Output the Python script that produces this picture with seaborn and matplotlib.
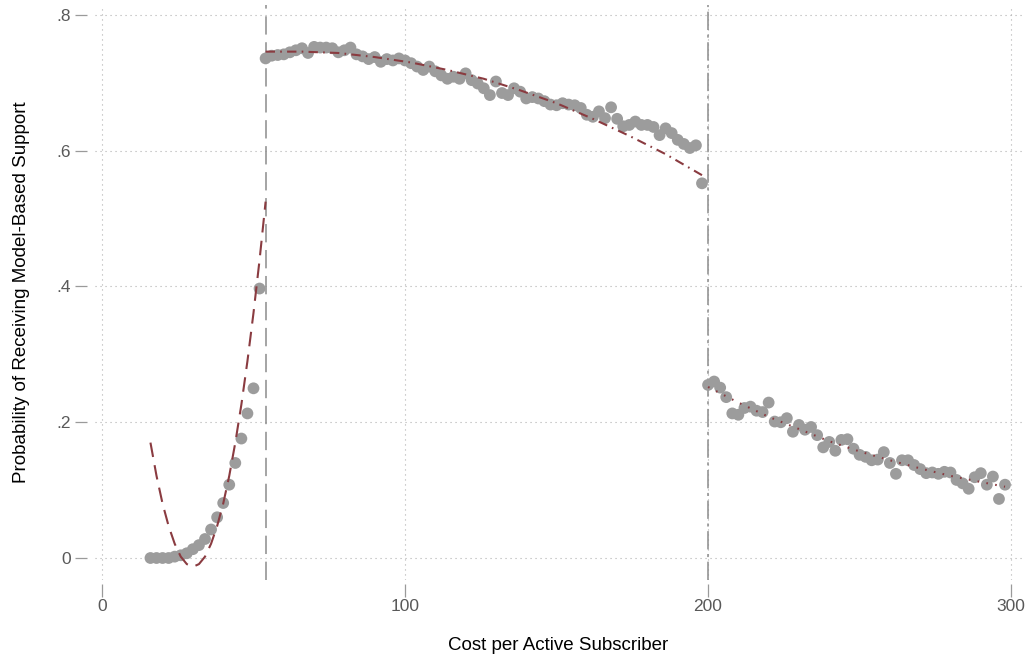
import numpy as np
import pandas as pd
import seaborn as sns
import matplotlib.pyplot as plt

sns.set_theme(style="white")
plt.rcParams['font.family'] = ['Liberation Sans', 'DejaVu Sans']

# binned means (2-unit bins) on each side of the cutoffs
left_x = list(range(16, 54, 2))
left_y = [0.000, 0.000, 0.000, 0.000, 0.002, 0.004, 0.007, 0.013, 0.019, 0.028,
          0.042, 0.060, 0.081, 0.108, 0.140, 0.176, 0.213, 0.250, 0.397]

mid_x = list(range(54, 200, 2))
mid_y = [0.736, 0.740, 0.741, 0.742, 0.745, 0.748, 0.751, 0.744, 0.753, 0.752,
         0.752, 0.751, 0.745, 0.748, 0.752, 0.742, 0.739, 0.735, 0.738, 0.731,
         0.735, 0.733, 0.736, 0.733,
         0.729, 0.724, 0.719, 0.724, 0.717, 0.711, 0.706, 0.709, 0.706, 0.714,
         0.704, 0.699, 0.692, 0.682, 0.702, 0.685, 0.682, 0.692, 0.687, 0.677,
         0.679, 0.677, 0.673,
         0.668, 0.667, 0.670, 0.668, 0.667, 0.663, 0.653, 0.650, 0.658, 0.648,
         0.664, 0.647, 0.636, 0.638, 0.643, 0.638, 0.638, 0.635, 0.623, 0.633,
         0.626, 0.616, 0.610, 0.604, 0.608, 0.552]

right_x = list(range(200, 300, 2))
right_y = [0.255, 0.260, 0.251, 0.237, 0.213, 0.211, 0.221, 0.223, 0.217, 0.215,
           0.229, 0.201, 0.200, 0.206, 0.186, 0.196, 0.189, 0.193, 0.181, 0.163,
           0.171, 0.158, 0.174, 0.175, 0.161,
           0.152, 0.149, 0.144, 0.145, 0.156, 0.140, 0.124, 0.144, 0.144, 0.137,
           0.131, 0.125, 0.126, 0.124, 0.127, 0.126, 0.115, 0.110, 0.102, 0.119,
           0.125, 0.108, 0.120, 0.087, 0.108]

# fitted curves
left_fit_x = list(range(16, 56, 2))
left_fit_y = [0.170, 0.121, 0.080, 0.047, 0.021, 0.002, -0.009, -0.013, -0.009, 0.002,
              0.021, 0.047, 0.080, 0.121, 0.170, 0.226, 0.290, 0.361, 0.439, 0.525]
mid_fit_x = [54, 66, 78, 90, 102, 114, 126, 138, 150, 162, 174, 186, 198]
mid_fit_y = [0.746, 0.746, 0.744, 0.738, 0.730, 0.719, 0.706, 0.689, 0.670, 0.647,
             0.622, 0.595, 0.564]
right_fit_x = [200, 210, 220, 230, 240, 250, 260, 270, 280, 290, 298]
right_fit_y = [0.252, 0.229, 0.208, 0.190, 0.172, 0.157, 0.144, 0.132, 0.121, 0.112, 0.105]

cutoffs = [54, 200]
x_ticks = [0, 100, 200, 300]
y_ticks = [0, 0.2, 0.4, 0.6, 0.8]
y_ticklabels = ["0", ".2", ".4", ".6", ".8"]

fit_col = "#8a3b40"
dot_col = "#9c9c9c"

fig = plt.figure(figsize=(10.33, 6.6), dpi=100)
ax = fig.add_axes([95 / 1033, 1 - 580 / 660, 927 / 1033, 575 / 660])

ax.axvline(cutoffs[0], color="#8c8c8c", lw=1.1, ls=(0, (12, 5)), zorder=1)
ax.axvline(cutoffs[1], color="#8c8c8c", lw=1.1, ls=(0, (12, 3, 2, 3)), zorder=1)

points = pd.DataFrame({"x": left_x + mid_x + right_x, "y": left_y + mid_y + right_y})
sns.scatterplot(data=points, x="x", y="y", ax=ax, color=dot_col, s=72,
                edgecolor="none", linewidth=0, zorder=3)

sns.lineplot(x=left_fit_x, y=left_fit_y, ax=ax, color=fit_col, lw=1.5,
             ls=(0, (7, 4)), zorder=4)
sns.lineplot(x=mid_fit_x, y=mid_fit_y, ax=ax, color=fit_col, lw=1.5,
             ls=(0, (4.5, 2.5, 0.8, 2.5)), zorder=4)
sns.lineplot(x=right_fit_x, y=right_fit_y, ax=ax, color=fit_col, lw=1.5,
             ls=(0, (0.8, 3.5)), zorder=4)

ax.set_xlim(-2.3, 303.6)
ax.set_ylim(-0.0324, 0.8147)
ax.set_xticks(x_ticks)
ax.set_yticks(y_ticks)
ax.set_yticklabels(y_ticklabels)

ax.grid(True, ls=(0, (1, 3.5)), color="#b0b0b0", lw=0.8)
ax.set_axisbelow(True)
for side in ["top", "right", "left", "bottom"]:
    ax.spines[side].set_visible(False)
ax.spines["left"].set_position(("outward", 5.5))
ax.spines["bottom"].set_position(("outward", 3))
ax.tick_params(axis="both", direction="out", length=9, width=0.9, color="#9a9a9a",
               labelcolor="#595959", labelsize=12.5, left=True, bottom=True)
ax.tick_params(axis="y", pad=3)
ax.tick_params(axis="x", pad=2)

ax.set_xlabel("Cost per Active Subscriber", fontsize=13.5, color="black")
ax.set_ylabel("Probability of Receiving Model-Based Support", fontsize=13.5, color="black")
ax.xaxis.set_label_coords(0.5, -0.1)
ax.yaxis.set_label_coords(-0.07, 0.5)

fig.savefig("out.png", dpi=100)
